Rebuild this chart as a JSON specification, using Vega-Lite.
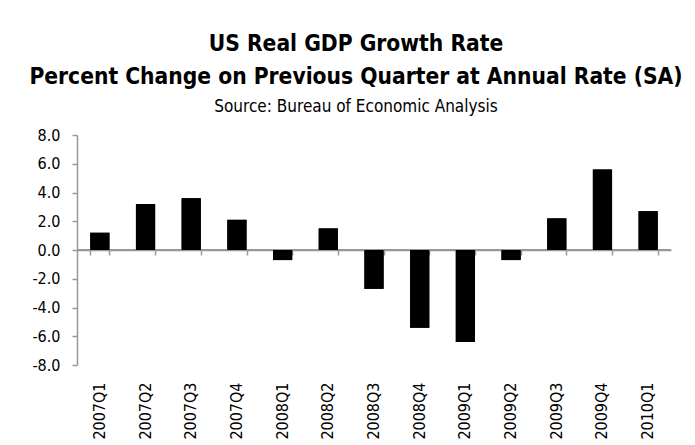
{
  "$schema": "https://vega.github.io/schema/vega-lite/v6.json",
  "width": 594,
  "height": 230,
  "autosize": "none",
  "padding": {"left": 77, "top": 135, "right": 24, "bottom": 80},
  "background": "white",
  "title": {
    "text": ["US Real GDP Growth Rate", "Percent Change on Previous Quarter at Annual Rate (SA)"],
    "subtitle": "Source: Bureau of Economic Analysis",
    "font": "DejaVu Sans Condensed",
    "fontSize": 22.6,
    "fontWeight": "bold",
    "lineHeight": 33,
    "color": "black",
    "subtitleFont": "DejaVu Sans Condensed",
    "subtitleFontSize": 17,
    "subtitleColor": "black",
    "subtitlePadding": 10,
    "anchor": "middle",
    "dx": -18,
    "offset": 12
  },
  "data": {
    "values": [
      {"quarter": "2007Q1", "growth": 1.2},
      {"quarter": "2007Q2", "growth": 3.2},
      {"quarter": "2007Q3", "growth": 3.6},
      {"quarter": "2007Q4", "growth": 2.1},
      {"quarter": "2008Q1", "growth": -0.7},
      {"quarter": "2008Q2", "growth": 1.5},
      {"quarter": "2008Q3", "growth": -2.7},
      {"quarter": "2008Q4", "growth": -5.4},
      {"quarter": "2009Q1", "growth": -6.4},
      {"quarter": "2009Q2", "growth": -0.7},
      {"quarter": "2009Q3", "growth": 2.2},
      {"quarter": "2009Q4", "growth": 5.6},
      {"quarter": "2010Q1", "growth": 2.7}
    ]
  },
  "config": {
    "view": {"stroke": "transparent"},
    "axis": {
      "labelFont": "DejaVu Sans Condensed",
      "labelFontSize": 16,
      "labelColor": "black",
      "domainColor": "#999999",
      "tickColor": "#999999",
      "domainWidth": 1.5,
      "tickWidth": 1.5,
      "grid": false,
      "labelOverlap": false
    }
  },
  "resolve": {"axis": {"x": "independent"}},
  "layer": [
    {
      "mark": {"type": "bar", "color": "black"},
      "encoding": {
        "x": {
          "field": "quarter",
          "type": "nominal",
          "sort": null,
          "title": null,
          "scale": {"paddingInner": 0.58, "paddingOuter": 0.29},
          "axis": {"orient": "bottom", "labelAngle": -90, "labelPadding": 17, "ticks": false, "domain": false}
        },
        "y": {
          "field": "growth",
          "type": "quantitative",
          "title": null,
          "scale": {"domain": [-8, 8], "nice": false},
          "axis": {"values": [-8, -6, -4, -2, 0, 2, 4, 6, 8], "labelExpr": "replace(format(datum.value, '.1f'), '\u2212', '-')", "tickSize": 5, "labelPadding": 12, "domain": true, "ticks": true}
        }
      }
    },
    {
      "mark": {"type": "rule", "color": "#999999", "strokeWidth": 1.5},
      "encoding": {
        "y": {
          "datum": 0,
          "type": "quantitative",
          "title": null,
          "axis": {"values": [-8, -6, -4, -2, 0, 2, 4, 6, 8], "labelExpr": "replace(format(datum.value, '.1f'), '\u2212', '-')", "tickSize": 5, "labelPadding": 12, "domain": true, "ticks": true}
        }
      }
    },
    {
      "mark": {"type": "bar", "color": "black"},
      "encoding": {
        "x": {
          "field": "quarter",
          "type": "nominal",
          "sort": null,
          "title": null,
          "axis": {"orient": "top", "offset": -115, "labels": false, "tickBand": "extent", "tickSize": -5, "domain": true, "ticks": true}
        },
        "y": {
          "field": "growth",
          "type": "quantitative",
          "title": null,
          "axis": {"values": [-8, -6, -4, -2, 0, 2, 4, 6, 8], "labelExpr": "replace(format(datum.value, '.1f'), '\u2212', '-')", "tickSize": 5, "labelPadding": 12, "domain": true, "ticks": true}
        }
      }
    }
  ]
}
